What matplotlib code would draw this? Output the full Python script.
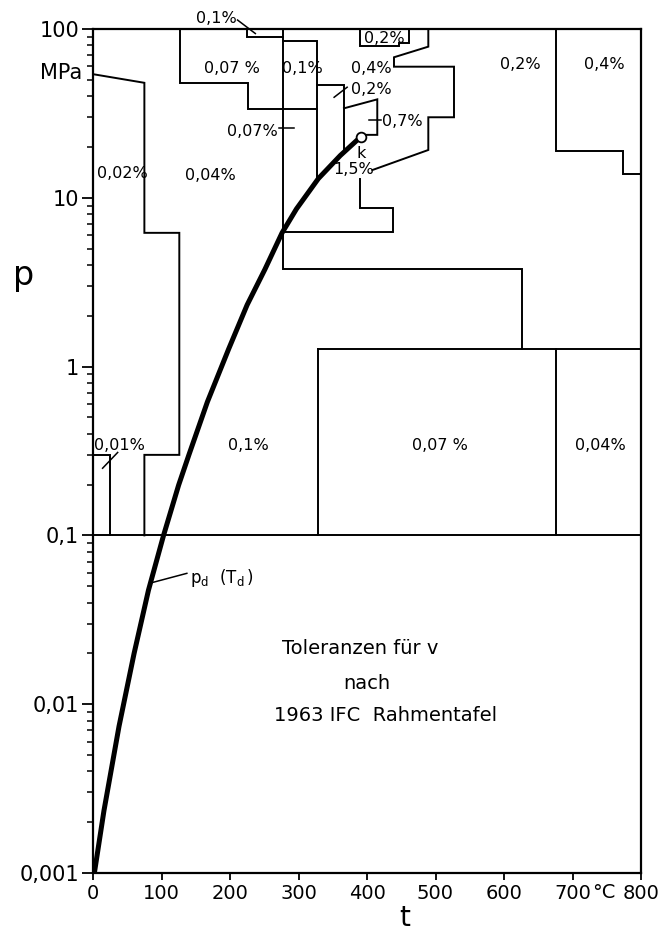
import matplotlib
matplotlib.use("Agg")
import matplotlib.pyplot as plt

# saturation line p_d(T_d) (t in degC, p in MPa)
curve_t = [2, 16, 38, 60, 81, 103, 125, 140, 167, 198, 225, 251, 276, 297, 329, 361, 391]
curve_p = [0.001, 0.00234, 0.0074, 0.02, 0.0474, 0.1, 0.1985, 0.3, 0.618, 1.27,
           2.32, 3.77, 6.2, 8.59, 13.0, 17.8, 23.0]
crit_t, crit_p = 391, 23.0

# tolerance zone boundaries (t, p)
b_002_t = [0, 75, 75, 126, 126, 75, 75]
b_002_p = [54, 48, 6.2, 6.2, 0.30, 0.30, 0.1]
b_001_t = [0, 25, 25]
b_001_p = [0.30, 0.30, 0.1]
b_007top_t = [127, 127, 226, 226, 327.5]
b_007top_p = [100, 48, 48, 33.6, 33.6]
b_01small_t = [225, 225, 277.4]
b_01small_p = [100, 90, 90]
b_277_t = [277.4, 277.4, 627, 627]
b_277_p = [100, 3.77, 3.77, 1.27]
b_01mid_t = [277.4, 327.5, 327.5]
b_01mid_p = [85.2, 85.2, 13.0]
b_02_t = [327.5, 366.4, 366.4]
b_02_p = [46.6, 46.6, 18.6]
b_07_t = [366.4, 415, 415, 396]
b_07_p = [33.9, 38.3, 23.6, 23.6]
b_02box_t = [390, 390, 446.7, 446.7, 461, 461]
b_02box_p = [100, 79.3, 79.3, 82.2, 82.2, 100]
b_04_t = [489.5, 489.5, 439.4, 439.4, 527, 527, 489.5, 489.5, 407.8]
b_04_p = [100, 78.6, 68, 59.8, 59.8, 30, 30, 19.2, 14.6]
b_15_t = [389.8, 389.8, 438.4, 438.4, 277.4]
b_15_p = [13, 8.7, 8.7, 6.25, 6.25]
b_right_t = [675.4, 675.4, 774, 774, 800]
b_right_p = [100, 19, 19, 13.8, 13.8]
b_lowtop_t = [327.8, 800]
b_lowtop_p = [1.27, 1.27]
b_low1_t = [327.8, 327.8]
b_low1_p = [1.27, 0.1]
b_low2_t = [676.6, 676.6]
b_low2_p = [1.27, 0.1]
b_base_t = [0, 800]
b_base_p = [0.1, 0.1]

boundaries = [
    (b_002_t, b_002_p), (b_001_t, b_001_p), (b_007top_t, b_007top_p),
    (b_01small_t, b_01small_p), (b_277_t, b_277_p), (b_01mid_t, b_01mid_p),
    (b_02_t, b_02_p), (b_07_t, b_07_p), (b_02box_t, b_02box_p), (b_04_t, b_04_p),
    (b_15_t, b_15_p), (b_right_t, b_right_p), (b_lowtop_t, b_lowtop_p),
    (b_low1_t, b_low1_p), (b_low2_t, b_low2_p), (b_base_t, b_base_p),
]

# zone labels: text, t, p, alignment
zone_text = ["0,07 %", "0,1%", "0,4%", "0,2%", "0,2%", "0,7%", "0,07%", "k", "1,5%",
             "0,02%", "0,04%", "0,2%", "0,4%", "0,01%", "0,1%", "0,07 %", "0,04%", "0,1%"]
zone_t = [203, 306, 407, 425, 376, 422, 233, 392, 381, 43, 171, 624, 746, 39, 227, 506, 741, 180]
zone_p = [58.5, 58.5, 58.5, 88, 43.9, 28.2, 24.6, 18.3, 14.8, 13.9, 13.6, 61.2, 61.2,
          0.343, 0.343, 0.343, 0.343, 116]
zone_ha = ["center", "center", "center", "center", "left", "left", "center", "center", "center",
           "center", "center", "center", "center", "center", "center", "center", "center", "center"]

# short leader strokes pointing into narrow zones
leaders = [
    ([211, 237], [113, 94]),      # 0,1% top
    ([352, 371], [39.4, 45.2]),   # 0,2%
    ([403, 420], [28.9, 28.9]),   # 0,7%
    ([271, 293], [26, 26]),       # 0,07%
    ([14, 36], [0.25, 0.31]),     # 0,01%
    ([86, 137], [0.0525, 0.0596]),  # p_d label
]

y_ticks = [0.001, 0.01, 0.1, 1, 10, 100]
y_labels = ["0,001", "0,01", "0,1", "1", "10", "100"]
x_ticks = [0, 100, 200, 300, 400, 500, 600, 700, 800]

plt.rcParams['font.family'] = ['DejaVu Sans']

fig = plt.figure(figsize=(6.72, 9.32), dpi=100)
ax = fig.add_axes([93 / 672, 1 - 873 / 932, 548 / 672, 844 / 932])

for bt, bp in boundaries:
    ax.plot(bt, bp, color='black', linewidth=1.4, solid_joinstyle='miter')

ax.plot(curve_t, curve_p, color='black', linewidth=3.6, solid_capstyle='round',
        solid_joinstyle='round')
ax.plot([crit_t], [crit_p], marker='o', markersize=7, markerfacecolor='white',
        markeredgecolor='black', markeredgewidth=1.3, zorder=5)

for lt, lp in leaders:
    ax.plot(lt, lp, color='black', linewidth=1.1, clip_on=False)

for txt, t, p, ha in zip(zone_text, zone_t, zone_p, zone_ha):
    ax.text(t, p, txt, ha=ha, va='center', fontsize=11.5, clip_on=False)

ax.text(141, 0.056, r'$\mathregular{p_d\ \ (T_d\,)}$', ha='left', va='center', fontsize=12)

ax.text(276, 0.0215, "Toleranzen für v", ha='left', va='center', fontsize=14)
ax.text(366, 0.01335, "nach", ha='left', va='center', fontsize=14)
ax.text(264, 0.00863, "1963 IFC  Rahmentafel", ha='left', va='center', fontsize=14)

ax.set_yscale('log')
ax.set_xlim(0, 800)
ax.set_ylim(0.001, 100)
ax.set_yticks(y_ticks)
ax.set_yticklabels(y_labels)
ax.set_xticks(x_ticks)
ax.tick_params(axis='y', which='major', labelsize=15, width=1.3, length=8, pad=2)
ax.tick_params(axis='x', which='major', labelsize=14, width=1.3, length=5, pad=3)
ax.tick_params(axis='y', which='minor', length=4, width=1.1)
for s in ax.spines.values():
    s.set_linewidth(1.6)

ax.text(746, -0.012, "°C", transform=ax.get_xaxis_transform(), ha='center', va='top',
        fontsize=14)
ax.text(-0.02, 55, "MPa", transform=ax.get_yaxis_transform(), ha='right', va='center',
        fontsize=15)
fig.text(0.035, 1 - 275 / 932, "p", fontsize=24, ha='center', va='center')
fig.text(405 / 672, 1 - 918 / 932, "t", fontsize=20, ha='center', va='center')

fig.savefig("out.png", dpi=100, facecolor='white')
